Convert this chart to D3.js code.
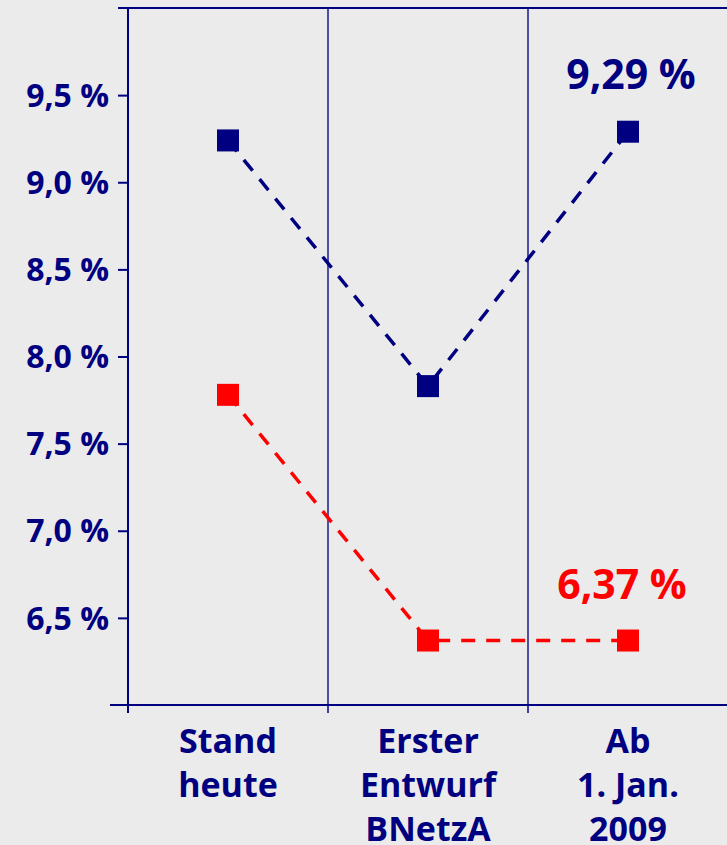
<!DOCTYPE html>
<html>
<head>
<meta charset="utf-8">
<script src="https://cdn.jsdelivr.net/npm/d3@7"></script>
<style>
  body { margin: 0; background: #ebebeb; }
  text { font-family: "Open Sans", sans-serif; font-weight: bold; fill: #000080; }
</style>
</head>
<body>
<div id="chart"></div>
<script>
// data
var categories = ["Stand heute", "Erster Entwurf BNetzA", "Ab 1. Jan. 2009"];
var categoryLines = [["Stand", "heute"], ["Erster", "Entwurf", "BNetzA"], ["Ab", "1. Jan.", "2009"]];
var blueValues = [9.24, 7.83, 9.29];
var redValues = [7.78, 6.37, 6.37];
var yTicks = [6.5, 7.0, 7.5, 8.0, 8.5, 9.0, 9.5];
var endLabels = ["9,29 %", "6,37 %"];

var width = 727, height = 845;
var blue = "#000080", red = "#ff0000";

var svg = d3.select("#chart")
  .append("svg")
    .attr("width", width)
    .attr("height", height);

// scales
var x = d3.scaleBand()
  .domain(categories)
  .range([128, 728]);

var y = d3.scaleLinear()
  .domain([6, 10])
  .range([705, 8]);

// vertical separators between categories
svg.append("g")
  .selectAll("line")
  .data(categories.slice(1))
  .enter()
  .append("line")
    .attr("x1", function(d) { return x(d); })
    .attr("x2", function(d) { return x(d); })
    .attr("y1", y(10))
    .attr("y2", y(6))
    .style("stroke", "#1a1a8a")
    .style("stroke-width", 1.5);

// top frame line
svg.append("line")
  .attr("x1", 118).attr("x2", width)
  .attr("y1", y(10)).attr("y2", y(10))
  .style("stroke", blue).style("stroke-width", 2);

// Y axis
var yAxis = svg.append("g")
  .attr("transform", "translate(128,0)")
  .call(d3.axisLeft(y).tickValues(yTicks).tickSize(10).tickPadding(9)
    .tickFormat(function(d) { return d3.format(".1f")(d).replace(".", ",") + " %"; }));
yAxis.select(".domain").remove();
yAxis.selectAll("line").style("stroke", blue).style("stroke-width", 2);
yAxis.selectAll("text")
  .style("font-size", "32px")
  .style("font-family", "'Open Sans', sans-serif")
  .style("font-weight", "bold")
  .attr("fill", blue)
  .attr("dy", "0.35em");

svg.append("line")
  .attr("x1", 128).attr("x2", 128)
  .attr("y1", y(10)).attr("y2", y(6) + 8)
  .style("stroke", blue).style("stroke-width", 2);

// X axis
svg.append("line")
  .attr("x1", 110).attr("x2", width)
  .attr("y1", y(6)).attr("y2", y(6))
  .style("stroke", blue).style("stroke-width", 2);

svg.append("g")
  .selectAll("line")
  .data(categories.slice(1))
  .enter()
  .append("line")
    .attr("x1", function(d) { return x(d); })
    .attr("x2", function(d) { return x(d); })
    .attr("y1", y(6))
    .attr("y2", y(6) + 8)
    .style("stroke", blue)
    .style("stroke-width", 1.5);

// category labels
var catLabels = svg.append("g")
  .selectAll("text")
  .data(categories)
  .enter()
  .append("text")
    .attr("text-anchor", "middle")
    .style("font-size", "34px");
catLabels.each(function(d, i) {
  d3.select(this).selectAll("tspan")
    .data(categoryLines[i])
    .enter()
    .append("tspan")
      .attr("x", x(d) + x.bandwidth() / 2)
      .attr("y", function(l, j) { return 753 + j * 44; })
      .text(function(l) { return l; });
});

// lines
var line = d3.line()
  .x(function(d, i) { return x(categories[i]) + x.bandwidth() / 2; })
  .y(function(d) { return y(d); });

function addSeries(values, color) {
  svg.append("path")
    .datum(values)
    .attr("d", line)
    .style("fill", "none")
    .style("stroke", color)
    .style("stroke-width", 3.5)
    .style("stroke-dasharray", "14,11");

  svg.append("g")
    .selectAll("rect")
    .data(values)
    .enter()
    .append("rect")
      .attr("x", function(d, i) { return x(categories[i]) + x.bandwidth() / 2 - 11; })
      .attr("y", function(d) { return y(d) - 11; })
      .attr("width", 22)
      .attr("height", 22)
      .style("fill", color);
}
addSeries(blueValues, blue);
addSeries(redValues, red);

// end labels
svg.append("text")
  .attr("x", x(categories[2]) + x.bandwidth() / 2 + 3)
  .attr("y", y(blueValues[2]) - 43)
  .attr("text-anchor", "middle")
  .style("font-size", "41px")
  .text(endLabels[0]);

svg.append("text")
  .attr("x", x(categories[2]) + x.bandwidth() / 2 - 6)
  .attr("y", y(redValues[2]) - 42)
  .attr("text-anchor", "middle")
  .style("font-size", "41px")
  .style("fill", red)
  .text(endLabels[1]);
</script>
</body>
</html>
